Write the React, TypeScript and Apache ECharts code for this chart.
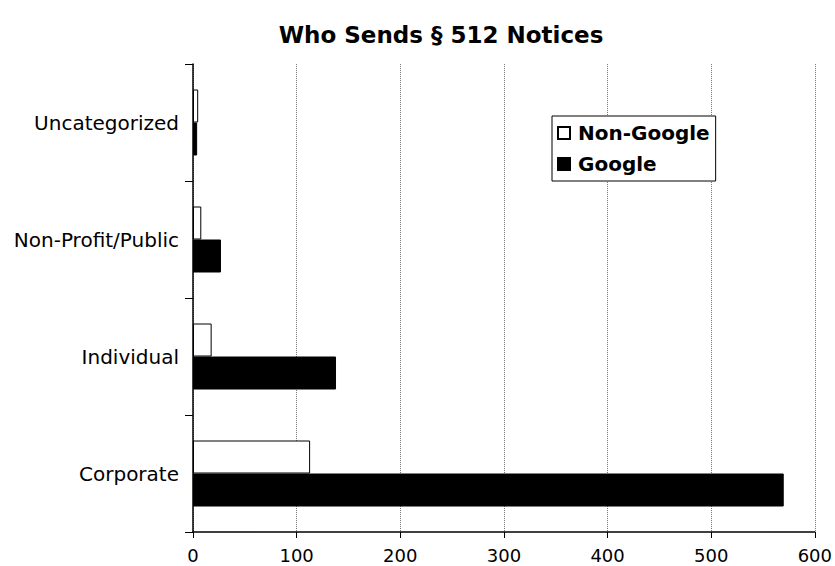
import React, { useEffect, useRef } from "react";
import * as echarts from "echarts";

const categories = ["Corporate", "Individual", "Non-Profit/Public", "Uncategorized"];
const nonGoogle = [113, 18, 8, 5];
const google = [570, 138, 27, 4];
const xTicks = [0, 100, 200, 300, 400, 500, 600];

const FONT = "'DejaVu Sans', Verdana, sans-serif";

export default function App() {
  const ref = useRef<HTMLDivElement>(null);
  useEffect(() => {
    if (!ref.current) return;
    const chart = echarts.init(ref.current, null, { renderer: "svg" });
    chart.setOption({
      animation: false,
      backgroundColor: "#fff",
      title: {
        text: "Who Sends § 512 Notices",
        left: 436,
        textAlign: "center",
        top: 18,
        textStyle: { fontFamily: FONT, fontWeight: "bold", fontSize: 23, color: "#000" },
      },
      legend: {
        orient: "vertical",
        left: 552,
        top: 116,
        padding: [7, 6, 7, 5],
        itemGap: 11,
        itemWidth: 12,
        itemHeight: 12,
        icon: "rect",
        borderColor: "#000",
        borderWidth: 1,
        backgroundColor: "#fff",
        textStyle: { fontFamily: FONT, fontWeight: "bold", fontSize: 20, color: "#000", padding: [0, 0, 0, 3] },
        data: ["Non-Google", "Google"],
      },
      grid: { left: 193, right: 19, top: 64, bottom: 34, containLabel: false },
      xAxis: {
        type: "value",
        min: xTicks[0],
        max: xTicks[xTicks.length - 1],
        interval: 100,
        axisLine: { show: true, lineStyle: { color: "#000", width: 1.5 } },
        axisTick: { show: true, length: 6, lineStyle: { color: "#000" } },
        axisLabel: { fontFamily: FONT, fontSize: 18, color: "#000", margin: 14 },
        splitLine: { show: true, lineStyle: { color: "#777", type: "dotted", width: 1 } },
      },
      yAxis: {
        type: "category",
        data: categories,
        axisLine: { show: true, lineStyle: { color: "#000", width: 1.5 } },
        axisTick: { show: true, length: 8, lineStyle: { color: "#000" } },
        axisLabel: { fontFamily: FONT, fontSize: 20, color: "#000", margin: 14 },
        splitLine: { show: false },
      },
      series: [
        {
          name: "Non-Google",
          type: "bar",
          data: nonGoogle,
          barWidth: 33,
          barGap: "0%",
          itemStyle: { color: "#fff", borderColor: "#000", borderWidth: 1 },
        },
        {
          name: "Google",
          type: "bar",
          data: google,
          barWidth: 33,
          barGap: "0%",
          itemStyle: { color: "#000", borderColor: "#000", borderWidth: 1 },
        },
      ],
    });
    return () => chart.dispose();
  }, []);
  return <div ref={ref} style={{ width: 835, height: 566, position: "absolute", left: 0, top: 0 }} />;
}
